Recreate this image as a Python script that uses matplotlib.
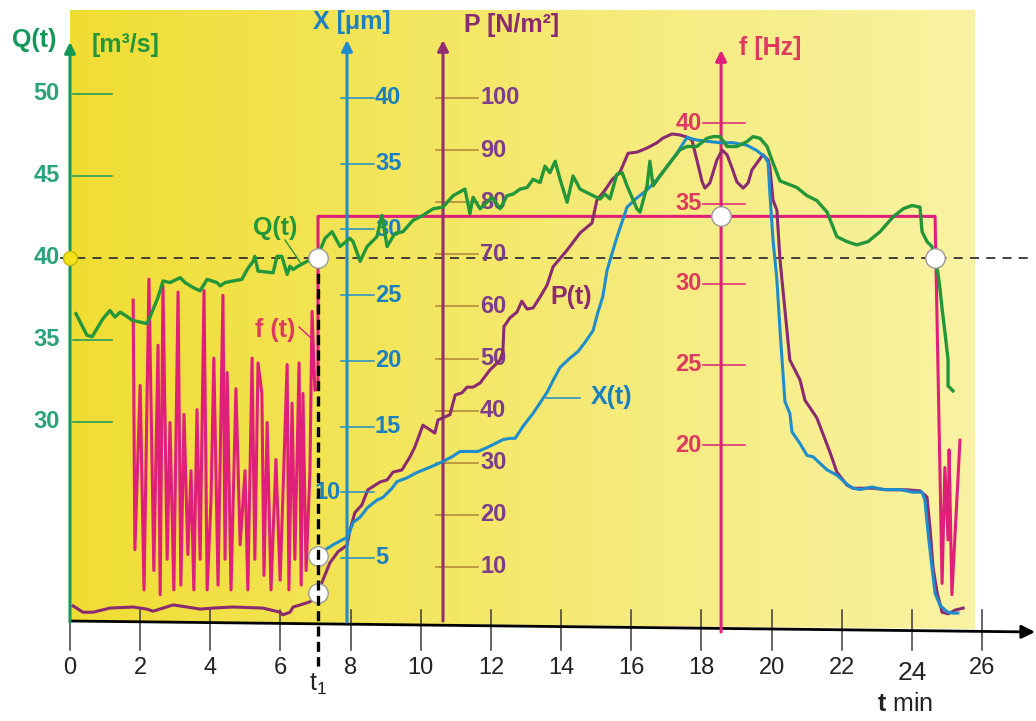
import numpy as np
import matplotlib.pyplot as plt
from matplotlib.colors import LinearSegmentedColormap
from matplotlib.patches import Polygon

plt.rcParams['font.family'] = ['Liberation Sans', 'DejaVu Sans']
plt.rcParams['mathtext.fontset'] = 'custom'
plt.rcParams['mathtext.rm'] = 'Liberation Sans'
plt.rcParams['mathtext.bf'] = 'Liberation Sans:bold'

W, H = 1036, 721
NARROW = ['Liberation Sans Narrow', 'Liberation Sans', 'DejaVu Sans']

# ---- data -------------------------------------------------------------
t_ticks = [0, 2, 4, 6, 8, 10, 12, 14, 16, 18, 20, 22, 24, 26]
T1 = 7.07            # start of the step
T_END = 24.66        # end of the step
Q_LEVEL = 40
F_STEP = 34.2
T_F_AXIS = 18.56

q_ticks = [50, 45, 40, 35, 30]
x_ticks = [40, 35, 30, 25, 20, 15, 10, 5]
p_ticks = [100, 90, 80, 70, 60, 50, 40, 30, 20, 10]
f_ticks = [40, 35, 30, 25, 20]

# Q(t) flow [m3/s]
q_t = [0.17, 0.48, 0.63, 0.94, 1.14, 1.28, 1.43, 1.65, 1.77, 2.19, 2.28, 2.51, 2.65, 2.85,
       3.14, 3.28, 3.51, 3.71, 3.91, 4.19, 4.28, 4.42, 4.65, 4.90, 5.05, 5.22, 5.27, 5.36,
       5.79, 5.90, 6.04, 6.19, 6.27, 6.36, 6.50, 6.76, 7.04, 7.27, 7.47, 7.70, 7.98, 8.07,
       8.27, 8.47, 8.75, 8.89, 9.04, 9.26, 9.49, 9.78, 10.06, 10.35, 10.63, 10.92, 11.26,
       11.40, 11.49, 11.69, 12.03, 12.26, 12.46, 12.63, 12.83, 13.03, 13.20, 13.40, 13.54,
       13.68, 13.83, 13.97, 14.17, 14.34, 14.54, 14.91, 15.11, 15.25, 15.39, 15.59, 15.74,
       15.88, 16.16, 16.25, 16.45, 16.53, 16.62, 16.82, 17.10, 17.39, 17.59, 17.87, 18.16,
       18.33, 18.53, 18.73, 19.01, 19.30, 19.47, 19.67, 19.87, 20.04, 20.24, 20.72, 21.01,
       21.29, 21.58, 21.86, 22.15, 22.43, 22.75, 23.09, 23.46, 23.75, 24.00, 24.23, 24.29,
       24.43, 24.57, 24.66, 24.74, 24.80, 24.86, 24.94, 25.03, 25.03, 25.17]
q_v = [36.6, 35.3, 35.2, 36.3, 36.8, 36.4, 36.7, 36.4, 36.2, 36.0, 36.4, 37.6, 38.6, 38.5,
       38.8, 38.5, 38.2, 38.0, 38.7, 38.5, 38.3, 38.5, 38.6, 38.7, 39.3, 39.8, 40.1, 39.2,
       39.1, 40.1, 40.1, 39.0, 39.5, 39.3, 39.5, 39.8, 40.0, 41.2, 41.6, 40.7, 41.2, 41.0,
       39.8, 40.7, 41.3, 42.6, 40.7, 41.5, 41.6, 42.3, 42.6, 43.0, 43.1, 43.8, 44.2,
       42.7, 43.7, 43.0, 43.7, 43.0, 43.8, 43.9, 44.2, 44.3, 44.8, 44.6, 45.6,
       45.2, 45.9, 44.8, 43.4, 45.0, 44.2, 43.8, 43.6, 43.9, 43.6, 45.1, 45.2,
       44.4, 43.0, 42.8, 44.4, 45.9, 44.4, 45.0, 45.8, 46.6, 46.8, 46.8, 47.3,
       47.4, 47.4, 46.8, 46.8, 47.1, 47.4, 47.3, 46.8, 45.8, 44.7, 44.3, 43.8,
       43.5, 42.8, 41.3, 41.0, 40.8, 41.0, 41.6, 42.5, 43.0, 43.2, 43.1, 41.6,
       41.0, 40.7, 40.0, 39.1, 38.1, 36.9, 35.5, 33.8, 32.2, 31.9]

# X(t) displacement [um]
x_t = [7.04, 7.21, 7.50, 7.78, 7.92, 8.07, 8.27, 8.47, 8.75, 8.92, 9.18, 9.32, 9.61, 9.89,
       10.26, 10.60, 10.89, 11.12, 11.35, 11.63, 11.89, 12.12, 12.34, 12.54, 12.69, 12.91,
       13.20, 13.40, 13.60, 13.77, 13.97, 14.25, 14.48, 14.68, 14.91, 15.05, 15.19, 15.31,
       15.59, 15.88, 16.16, 16.45, 16.73, 17.02, 17.30, 17.59, 17.87, 18.16, 18.53, 18.90,
       19.30, 19.58, 19.81, 19.90, 19.95, 20.04, 20.15, 20.24, 20.38, 20.52, 20.58, 20.81,
       21.01, 21.18, 21.38, 21.58, 21.86, 22.15, 22.32, 22.52, 22.86, 23.18, 23.66, 24.03,
       24.29, 24.37, 24.46, 24.57, 24.66, 24.80, 25.00, 25.17, 25.31]
x_v = [5.1, 5.5, 6.0, 6.4, 6.6, 7.7, 8.1, 8.8, 9.4, 9.6, 10.3, 10.8, 11.1, 11.5,
       11.9, 12.3, 12.7, 13.1, 13.1, 13.1, 13.4, 13.7, 14.0, 14.1, 14.1, 15.0,
       16.0, 16.8, 17.6, 18.5, 19.5, 20.2, 20.7, 21.4, 22.3, 23.7, 24.9, 26.9,
       29.4, 31.7, 32.4, 33.0, 33.8, 34.8, 35.8, 37.0, 36.8, 36.7, 36.6, 36.6,
       36.4, 36.0, 35.5, 35.1, 32.8, 29.2, 26.2, 22.3, 16.9, 16.0, 14.6, 13.7,
       12.8, 12.7, 12.2, 11.7, 11.3, 10.6, 10.3, 10.2, 10.4, 10.2, 10.2, 10.0,
       10.0, 9.4, 6.9, 4.3, 2.3, 1.4, 0.9, 0.8, 0.8]

# P(t) pressure [N/m2]
p_t = [0.09, 0.37, 0.66, 1.14, 1.80, 2.19, 2.37, 2.94, 3.34, 3.71, 4.08, 4.65, 5.50, 5.99,
       6.07, 6.27, 6.36, 6.56, 6.84, 7.04, 7.21, 7.41, 7.64, 7.90, 7.98, 8.12, 8.32, 8.49,
       8.84, 9.04, 9.21, 9.46, 9.69, 9.83, 10.06, 10.40, 10.49, 10.69, 10.83, 10.98, 11.17,
       11.32, 11.49, 11.69, 11.97, 12.26, 12.34, 12.37, 12.54, 12.74, 12.88, 13.03, 13.20,
       13.40, 13.60, 13.77, 14.17, 14.54, 14.88, 15.02, 15.25, 15.45, 15.68, 15.91, 16.16,
       16.45, 16.73, 16.90, 17.16, 17.39, 17.59, 17.73, 17.87, 18.02, 18.10, 18.24, 18.44,
       18.59, 18.73, 18.87, 19.01, 19.19, 19.33, 19.44, 19.58, 19.75, 19.90, 19.95, 20.04,
       20.15, 20.24, 20.38, 20.52, 20.81, 20.95, 21.29, 21.67, 21.86, 22.15, 22.32, 22.89,
       23.29, 23.86, 24.23, 24.43, 24.52, 24.60, 24.72, 24.86, 25.03, 25.23, 25.46]
p_v = [2.5, 1.3, 1.3, 2.1, 2.3, 1.9, 1.5, 2.7, 2.3, 1.9, 2.1, 2.3, 2.1, 1.3,
       0.8, 1.3, 2.3, 2.7, 3.3, 4.4, 7.5, 10.8, 12.9, 14.2, 17.1, 20.4, 21.9, 24.8,
       26.3, 26.7, 28.2, 28.6, 31.1, 33.0, 37.2, 35.7, 38.2, 38.8, 39.2, 43.0, 43.4,
       44.5, 44.5, 45.3, 47.8, 49.7, 51.3, 56.1, 57.8, 58.9, 61.0, 59.5, 59.7,
       61.8, 64.1, 67.6, 70.8, 74.1, 76.0, 80.4, 82.3, 84.3, 85.8, 89.4, 89.6,
       90.4, 91.4, 92.3, 93.1, 92.9, 92.5, 91.9, 88.1, 83.9, 82.7, 83.7, 88.1,
       90.0, 89.1, 86.6, 83.9, 82.7, 83.7, 86.2, 87.5, 89.1, 88.1, 86.8, 80.4,
       78.5, 68.9, 59.3, 49.7, 45.9, 42.0, 38.6, 31.9, 28.2, 25.7, 25.1, 25.1,
       24.8, 24.8, 24.6, 23.4, 17.1, 10.0, 5.0, 1.3, 1.0, 1.7, 2.1]

# f(t) frequency [Hz]
f_t = [1.80, 1.85, 2.00, 2.11, 2.25, 2.39, 2.51, 2.57, 2.65, 2.77, 2.85, 2.96, 3.08, 3.16,
       3.25, 3.36, 3.45, 3.53, 3.62, 3.71, 3.82, 3.91, 4.02, 4.10, 4.22, 4.36, 4.42, 4.48,
       4.59, 4.73, 4.85, 4.99, 5.07, 5.19, 5.27, 5.36, 5.47, 5.53, 5.62, 5.73, 5.87, 5.99,
       6.19, 6.24, 6.33, 6.41, 6.53, 6.59, 6.64, 6.73, 6.84, 6.90, 6.98, 7.07, 7.07,
       24.66, 24.86, 24.94, 25.03, 25.06, 25.14, 25.37]
f_v = [29.0, 13.5, 23.7, 11.0, 30.3, 12.2, 26.2, 10.7, 29.9, 12.9, 21.4, 11.0, 29.5, 11.3,
       21.9, 13.2, 18.4, 11.0, 22.2, 12.9, 29.6, 11.0, 16.6, 25.4, 11.3, 29.3, 12.9, 24.5,
       11.0, 23.5, 13.8, 18.4, 11.0, 25.4, 12.9, 25.1, 23.2, 11.9, 21.4, 11.0, 19.1, 11.6,
       25.0, 11.0, 22.6, 12.9, 25.1, 11.3, 23.2, 12.2, 18.4, 28.3, 23.4, 23.5, 34.2,
       34.2, 11.4, 18.6, 14.1, 19.7, 10.7, 20.3]

# ---- colours ------------------------------------------------------------
Q_C, Q_AX, Q_TXT = '#23963a', '#14985a', '#2aa27a'
X_C, X_TXT = '#1f8dcb', '#1c7fc0'
P_C, P_AX, P_TXT, P_TICK = '#8a2a70', '#932e72', '#7d3c8c', '#ad8438'
F_C, F_TXT = '#df1f7a', '#dc3a5e'

# ---- axes: one shared time scale, one y scale per quantity -------------
T0_PX, T_PX = 70, 35.08


def lims(ref_val, ref_px, px_per_unit):
    return ref_val - (H - ref_px) / px_per_unit, ref_val + ref_px / px_per_unit


def t_px(px):
    return (px - T0_PX) / T_PX


def y_px(a, py):
    return a.transData.inverted().transform((0, H - py))[1]


fig = plt.figure(figsize=(W / 100, H / 100), dpi=100)
ax = fig.add_axes([0, 0, 1, 1])
ax.set_xlim(t_px(0), t_px(W))
ax.set_ylim(*lims(50, 94, 16.4))
axf = ax.twinx()
axf.set_ylim(*lims(40, 123, 16.1))
axp = ax.twinx()
axp.set_ylim(*lims(100, 98, 5.21))
axx = ax.twinx()
axx.set_ylim(*lims(40, 98, 13.14))
axq = ax.twinx()
axq.set_ylim(ax.get_ylim())
for a in (ax, axf, axp, axx, axq):
    a.axis('off')

# yellow background, fading to the right
cmap = LinearSegmentedColormap.from_list('bg', ['#f0dd33', '#f3e55a', '#f6ec82', '#f9f2a2'])
grad = np.linspace(0, 1, 256).reshape(1, -1)
im = ax.imshow(grad, cmap=cmap, aspect='auto', interpolation='bilinear', zorder=0,
               extent=[0, t_px(975), y_px(ax, 640), y_px(ax, 10)])
bg_clip = Polygon([(0, y_px(ax, 10)), (t_px(975), y_px(ax, 10)),
                   (t_px(975), y_px(ax, 629)), (0, y_px(ax, 621))],
                  closed=True, transform=ax.transData)
im.set_clip_path(bg_clip)

# time axis
arrow = dict(arrowstyle='-|>', lw=2, shrinkA=0, shrinkB=0, mutation_scale=20)
ax.annotate('', xy=(t_px(1035), y_px(ax, 632)), xytext=(0, y_px(ax, 621)),
            arrowprops=dict(arrow, color='black'))
for t in t_ticks:
    ax.plot([t, t], [y_px(ax, 650), y_px(ax, 622 if t == 0 else 610)],
            color='#3a3a3a', lw=1.1, zorder=2)
    big = t == 24
    ax.text(t, y_px(ax, 673 if big else 668), str(t), ha='center', va='center',
            fontsize=19 if big else 17, color='#222')
ax.text(T1, y_px(ax, 684), r'$\mathregular{t_1}$', ha='center', va='center',
        fontsize=18, color='#222')
ax.text(t_px(905), y_px(ax, 704), r'$\mathbf{t}$ min', ha='center', va='center',
        fontsize=18, color='#222')

# vertical scales with arrow heads
for a, t, top, bot, c in [(ax, 0, 42, 622, Q_AX), (axx, t_px(347), 40, 622, X_C),
                          (axp, t_px(443), 40, 621, P_AX), (axf, T_F_AXIS, 50, 632, F_C)]:
    a.annotate('', xy=(t, y_px(a, top)), xytext=(t, y_px(a, bot)),
               arrowprops=dict(arrow, color=c, lw=2.2, mutation_scale=16))

bold = dict(fontweight='bold', family=NARROW)

# Q scale
for v in q_ticks:
    if v != Q_LEVEL:
        ax.plot([t_px(73), t_px(112)], [v, v], color=Q_AX, lw=1.1)
    ax.text(t_px(60), v, str(v), ha='right', va='center', fontsize=17, color=Q_TXT, **bold)
ax.text(t_px(12), y_px(ax, 40), 'Q(t)', ha='left', va='center', fontsize=18, color=Q_AX, **bold)
ax.text(t_px(92), y_px(ax, 45), '[m³/s]', ha='left', va='center', fontsize=18, color=Q_C, **bold)

# X scale
for v in x_ticks:
    axx.plot([t_px(341), t_px(374)], [v, v], color=X_C, lw=1.1)
    if v == 10:
        axx.text(t_px(341), v, str(v), ha='right', va='center', fontsize=17, color=X_TXT, **bold)
    else:
        axx.text(t_px(375), v, str(v), ha='left', va='center', fontsize=17, color=X_TXT, **bold)
axx.text(t_px(352), y_px(axx, 22), 'X [μm]', ha='center', va='center', fontsize=18,
         color=X_TXT, **bold)

# P scale
for v in p_ticks:
    axp.plot([t_px(436), t_px(478)], [v, v], color=P_TICK, lw=1.1)
    axp.text(t_px(480), v, str(v), ha='left', va='center', fontsize=17, color=P_TXT, **bold)
axp.text(t_px(512), y_px(axp, 25), 'P [N/m²]', ha='center', va='center', fontsize=18,
         color=P_C, **bold)

# f scale
for v in f_ticks:
    axf.plot([t_px(703), t_px(745)], [v, v], color=F_C, lw=1.1)
    axf.text(t_px(702), v, str(v), ha='right', va='center', fontsize=17, color=F_TXT, **bold)
axf.text(t_px(770), y_px(axf, 48), 'f [Hz]', ha='center', va='center', fontsize=18,
         color=F_TXT, **bold)

# reference level Q = 40 and instant t1
ax.plot([t_px(60), t_px(1030)], [Q_LEVEL, Q_LEVEL], color='#333', lw=1.3,
        dashes=(5, 4), zorder=3)
axq.plot([T1, T1], [Q_LEVEL, y_px(axq, 666)], color='black', lw=2.4, dashes=(3, 1.6), zorder=4)

# curves
axf.plot(f_t, f_v, color=F_C, lw=2.2, zorder=3)
axp.plot(p_t, p_v, color=P_C, lw=2.2, zorder=3)
axx.plot(x_t, x_v, color=X_C, lw=2.2, zorder=3)
axq.plot(q_t, q_v, color=Q_C, lw=2.4, zorder=3)

# curve labels
axq.text(t_px(275), y_px(axq, 228), 'Q(t)', ha='center', va='center', fontsize=18,
         color=Q_C, **bold)
axq.plot([t_px(285), t_px(300)], [y_px(axq, 240), y_px(axq, 262)], color=Q_C, lw=1)
axf.text(t_px(275), y_px(axf, 330), 'f (t)', ha='center', va='center', fontsize=18,
         color=F_TXT, **bold)
axf.plot([t_px(299), t_px(311)], [y_px(axf, 327), y_px(axf, 338)], color=F_C, lw=1)
axp.text(t_px(571), y_px(axp, 297), 'P(t)', ha='center', va='center', fontsize=18,
         color=P_C, **bold)
axx.text(t_px(612), y_px(axx, 397), 'X(t)', ha='center', va='center', fontsize=18,
         color=X_TXT, **bold)
axx.plot([t_px(546), t_px(580)], [y_px(axx, 398), y_px(axx, 398)], color=X_C, lw=1.1)

# marked points
dot = dict(marker='o', ms=14, mfc='white', mec='#9a9a9a', mew=1, zorder=10)
axq.plot([T1, T_END], [Q_LEVEL, Q_LEVEL], ls='none', **dot)
axx.plot(T1, np.interp(T1, x_t, x_v), **dot)
axp.plot(T1, np.interp(T1, p_t, p_v), **dot)
axf.plot(T_F_AXIS, F_STEP, **dot)
ax.plot(0, Q_LEVEL, marker='o', ms=10, mfc='#f2e21a', mec='#c9b800', mew=1, zorder=10)

fig.savefig('out.png', dpi=100, facecolor='white')
